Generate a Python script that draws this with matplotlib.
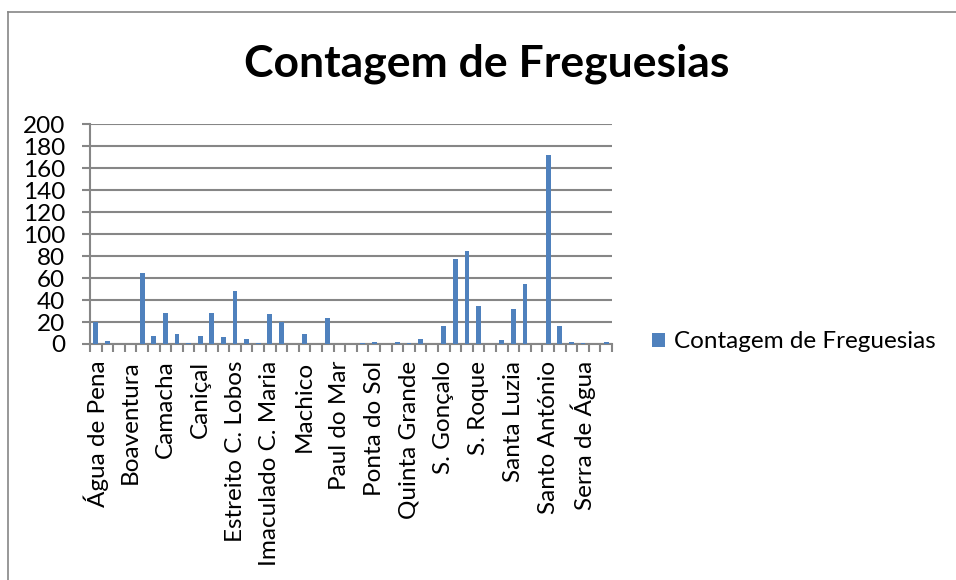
import numpy as np
import matplotlib
matplotlib.use("Agg")
import matplotlib.pyplot as plt
from matplotlib.lines import Line2D
from matplotlib.patches import Patch

plt.rcParams['font.family'] = ['Lato', 'DejaVu Sans']

categories = [
    "Água de Pena", "Arco da Calheta", "Arco de São Jorge",
    "Boaventura", "Calheta", "Câmara de Lobos",
    "Camacha", "Campanário", "Canhas",
    "Caniçal", "Caniço", "Curral das Freiras",
    "Estreito C. Lobos", "Estreito da Calheta", "Fajã da Ovelha",
    "Imaculado C. Maria", "Jardim da Serra", "Jardim do Mar",
    "Machico", "Madalena do Mar", "Monte",
    "Paul do Mar", "Ponta Delgada", "Ponta do Pargo",
    "Ponta do Sol", "Porto da Cruz", "Porto Moniz",
    "Quinta Grande", "Ribeira Brava", "Ribeira da Janela",
    "S. Gonçalo", "S. Jorge", "S. Martinho",
    "S. Roque", "S. Vicente", "Santa Cruz",
    "Santa Luzia", "Santa Maria Maior", "Santana",
    "Santo António", "Santo António da Serra", "Seixal",
    "Serra de Água", "Sé", "Tabua",
]
values = [
    20, 3, 0, 0, 65, 7, 28, 9, 1, 7, 28, 6, 48, 5, 1,
    27, 20, 0, 9, 0, 24, 0, 0, 1, 2, 0, 2, 1, 5, 0,
    16, 77, 85, 35, 0, 4, 32, 55, 0, 172, 16, 2, 1, 0, 2,
]
series_name = "Contagem de Freguesias"
title = "Contagem de Freguesias"
yticks = list(range(0, 201, 20))

W, H = 956, 580
fig = plt.figure(figsize=(W / 100, H / 100), dpi=100)
fig.patch.set_facecolor('white')

L, R, T, B = 90, 612, 124.3, 344
ax = fig.add_axes([L / W, 1 - B / H, (R - L) / W, (B - T) / H])

grid_c = '#868686'
bar_c = '#4F81BD'
x = np.arange(len(categories))
ax.bar(x, values, width=0.4, color=bar_c, zorder=3)

fs = 17.5
ax.set_xlim(-0.5, len(categories) - 0.5)
ax.set_ylim(0, 200)
ax.set_yticks(yticks)
ax.set_yticklabels([str(v) for v in yticks], fontsize=fs)
ax.yaxis.grid(True, color=grid_c, linewidth=1.5, zorder=0)
ax.set_axisbelow(True)

# x ticks: boundaries as major (marks), centers every third as minor (labels)
ax.set_xticks(np.arange(-0.5, len(categories), 1.0))
ax.set_xticklabels([])
lab_idx = list(range(0, len(categories), 3))
ax.set_xticks(lab_idx, minor=True)
ax.set_xticklabels([categories[i] for i in lab_idx], minor=True,
                   rotation=90, fontsize=fs, va='top', ha='center')
ax.tick_params(axis='x', which='major', length=6, width=1.5, color=grid_c, direction='out')
ax.tick_params(axis='x', which='minor', length=0, pad=12)
ax.tick_params(axis='y', length=6, width=1.5, color=grid_c, pad=12)

for s in ['top', 'right']:
    ax.spines[s].set_visible(False)
for s in ['left', 'bottom']:
    ax.spines[s].set_color(grid_c)
    ax.spines[s].set_linewidth(1.5)

fig.text(487 / W, 1 - 64 / H, title, fontsize=32, fontweight='bold',
         ha='center', va='center')

handles = [Patch(facecolor=bar_c, edgecolor='none', label=series_name)]
fig.legend(handles=handles, loc='center left', bbox_to_anchor=(652 / W, 1 - 342 / H),
           frameon=False, fontsize=fs, handlelength=0.55, handleheight=0.55,
           handletextpad=0.35, borderaxespad=0, borderpad=0)

# outer chart border (top and left visible)
fig.add_artist(Line2D([8 / W, 1.0], [1 - 12 / H, 1 - 12 / H], color='#868686', linewidth=1.2))
fig.add_artist(Line2D([8 / W, 8 / W], [0.0, 1 - 12 / H], color='#868686', linewidth=1.2))

fig.savefig('out.png', dpi=100)
